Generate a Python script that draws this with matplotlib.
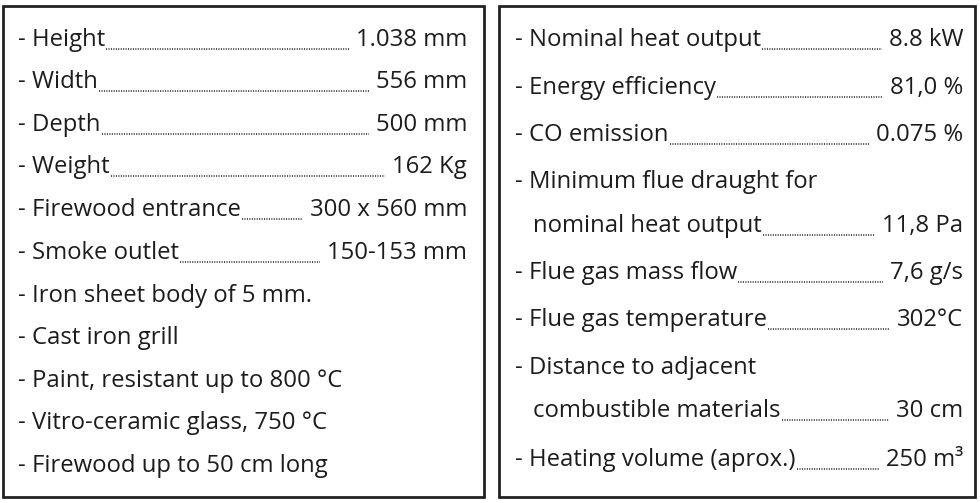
import matplotlib
matplotlib.use("Agg")
import matplotlib.pyplot as plt
from matplotlib.patches import Rectangle

plt.rcParams['font.family'] = ['Open Sans', 'DejaVu Sans']

# left panel
left_labels = ["- Height", "- Width", "- Depth", "- Weight", "- Firewood entrance",
               "- Smoke outlet", "- Iron sheet body of 5 mm.", "- Cast iron grill",
               "- Paint, resistant up to 800 °C", "- Vitro-ceramic glass, 750 °C",
               "- Firewood up to 50 cm long"]
left_values = ["1.038 mm", "556 mm", "500 mm", "162 Kg", "300 x 560 mm",
               "150-153 mm", "", "", "", "", ""]
left_y = [40, 82, 125, 167, 210, 253, 296, 338, 381, 423, 466]

# right panel
right_labels = ["- Nominal heat output", "- Energy efficiency", "- CO emission",
                "- Minimum flue draught for", "nominal heat output",
                "- Flue gas mass flow", "- Flue gas temperature",
                "- Distance to adjacent", "combustible materials",
                "- Heating volume (aprox.)"]
right_values = ["8.8 kW", "81,0 %", "0.075 %", "", "11,8 Pa", "7,6 g/s",
                "302°C", "", "30 cm", "250 m³"]
right_y = [40, 88, 135, 182, 226, 273, 320, 368, 411, 460]
right_indent = [False, False, False, False, True, False, False, False, True, False]

fig = plt.figure(figsize=(9.8, 5.03), dpi=100)
ax = fig.add_axes([0, 0, 1, 1])
ax.set_xlim(0, 980)
ax.set_ylim(503, 0)
ax.axis('off')

col = '#1c1c1c'
ax.add_patch(Rectangle((3, 6), 481, 491, fill=False, lw=2, ec='#222222'))
ax.add_patch(Rectangle((499, 6), 476, 491, fill=False, lw=2, ec='#222222'))

fs = 17.2
items = []
for lab, val, y in zip(left_labels, left_values, left_y):
    items.append((18, lab, val, y, 467))
for lab, val, y, ind in zip(right_labels, right_values, right_y, right_indent):
    items.append((533 if ind else 515, lab, val, y, 963))

fig.canvas.draw()
r = fig.canvas.get_renderer()
inv = ax.transData.inverted()
for x, lab, val, y, xr in items:
    t = ax.text(x, y, lab, fontsize=fs, color=col, va='center', ha='left')
    if not val:
        continue
    v = ax.text(xr, y, val, fontsize=fs, color=col, va='center', ha='right')
    e1 = inv.transform(t.get_window_extent(r))
    e2 = inv.transform(v.get_window_extent(r))
    x0 = e1[1][0] + 1
    x1 = e2[0][0] - 7
    ax.plot([x0, x1], [y + 9, y + 9], color=col, lw=1.1, ls=(0, (0.7, 0.9)))

fig.savefig("out.png", dpi=100, facecolor='white')
